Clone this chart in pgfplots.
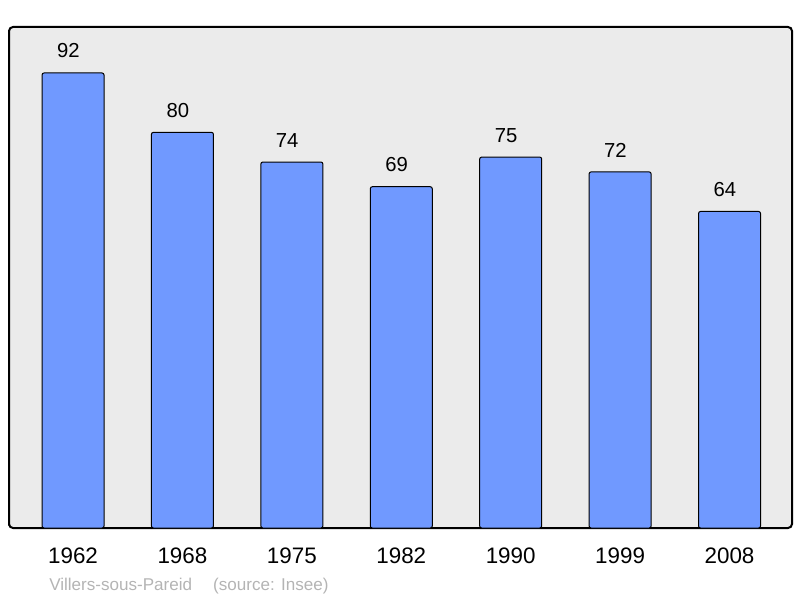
\documentclass[border=0pt]{standalone}
\usepackage{fontspec}
\setmainfont{Liberation Sans}
\usepackage{pgfplots}
\pgfplotsset{compat=1.18}
\definecolor{barblue}{RGB}{112,153,255}
\definecolor{panelgray}{RGB}{235,235,235}
\definecolor{srcgray}{RGB}{180,180,180}

\begin{document}
\begin{tikzpicture}
\begin{axis}[
    width=587.25pt, height=375.75pt, scale only axis,
    xmin=-0.585, xmax=6.571, ymin=0, ymax=101.3,
    /pgf/number format/assume math mode=true,
    axis background/.style={fill=panelgray, rounded corners=3pt},
    axis line style={line width=1.5pt, rounded corners=3pt},
    ytick=\empty,
    xtick={0,1,2,3,4,5,6},
    xticklabels={1962,1968,1975,1982,1990,1999,2008},
    major tick length=0pt,
    xticklabel style={font=\fontsize{16.8}{16.8}\selectfont, anchor=north, inner sep=0pt, yshift=-15pt},
    clip=false,
    ybar, bar width=46.5pt, bar shift=0pt,
    nodes near coords,
    nodes near coords style={font=\fontsize{15.2}{15.2}\selectfont, anchor=south, inner sep=0pt, xshift=-3.5pt, yshift=10.75pt},
]
\addplot[draw=black, line width=0.75pt, fill=barblue, rounded corners=1.5pt]
    coordinates {(0,92) (1,80) (2,74) (3,69) (4,75) (5,72) (6,64)};
% page extent
\path (rel axis cs:-0.0115,-0.1397) rectangle (rel axis cs:1.0102,1.0539);
% source line
\node[anchor=base west, inner sep=0pt, text=srcgray, font=\fontsize{12.8}{12.8}\selectfont]
    at (rel axis cs:0.0511,-0.1238) {Villers-sous-Pareid};
\node[anchor=base west, inner sep=0pt, text=srcgray, font=\fontsize{12.8}{12.8}\selectfont]
    at (rel axis cs:0.2605,-0.1238) {(source: Insee)};
\end{axis}
\end{tikzpicture}
\end{document}
